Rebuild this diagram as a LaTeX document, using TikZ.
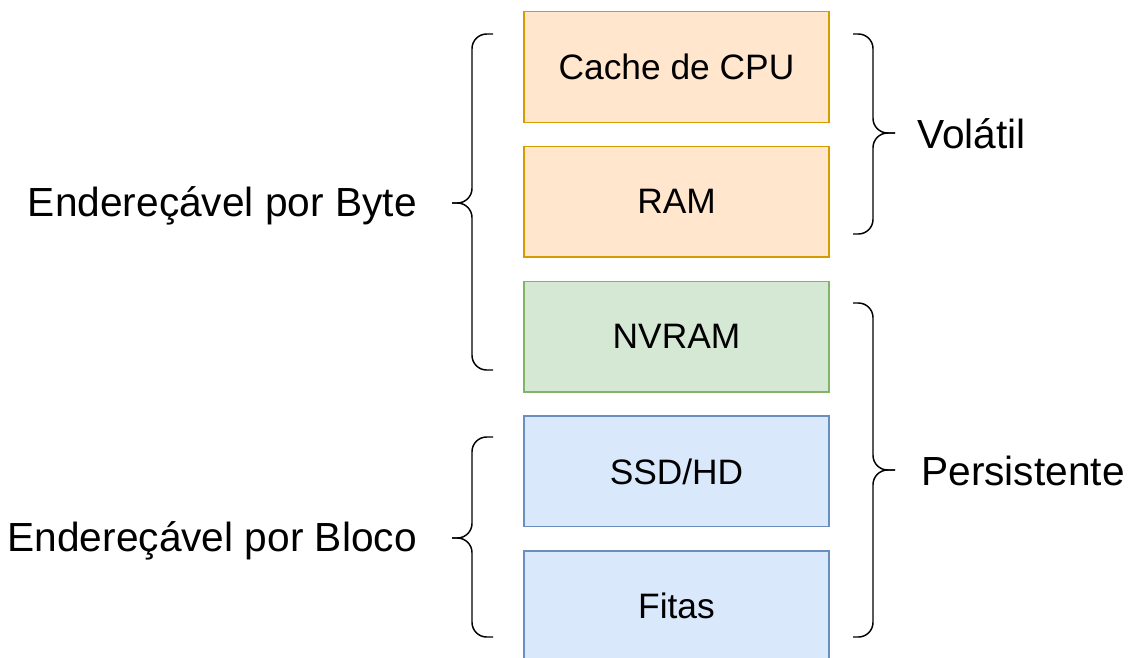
\documentclass[tikz,border=0pt]{standalone}
\usepackage{fontspec}
\setmainfont{Liberation Sans}
\usetikzlibrary{positioning}
\definecolor{cpufill}{HTML}{FFE6CC}
\definecolor{cpuline}{HTML}{D79B00}
\definecolor{nvfill}{HTML}{D5E8D4}
\definecolor{nvline}{HTML}{82B366}
\definecolor{diskfill}{HTML}{DAE8FC}
\definecolor{diskline}{HTML}{6C8EBF}
\begin{document}
\begin{tikzpicture}[x=0.75pt, y=-0.75pt,
    mem/.style={rectangle, line width=1.1pt, minimum width=229pt, minimum height=83pt,
                font=\fontsize{26.5}{32}\selectfont, inner sep=0pt},
    lbl/.style={font=\fontsize{30.5}{36}\selectfont, inner sep=0pt},
    brace/.style={line width=1.1pt, rounded corners=11pt}]
\useasboundingbox (0,0) rectangle (1134,657);
% memory hierarchy, top to bottom
\node[mem, draw=cpuline, fill=cpufill] (cache) at (676.5,67) {Cache de CPU};
\node[mem, draw=cpuline, fill=cpufill, below=17pt of cache] (ram) {RAM};
\node[mem, draw=nvline, fill=nvfill, below=17pt of ram] (nvram) {NVRAM};
\node[mem, draw=diskline, fill=diskfill, below=17pt of nvram] (ssd) {SSD/HD};
\node[mem, draw=diskline, fill=diskfill, below=17pt of ssd] (fitas) {Fitas};
% labels on the left
\node[lbl, anchor=east] (byte) at (417,206) {Endereçável por Byte};
\node[lbl, anchor=east] (bloco) at (417,541) {Endereçável por Bloco};
% labels on the right
\node[lbl, anchor=west] (volatil) at (917,134) {Volátil};
\node[lbl, anchor=west] (persist) at (921,471) {Persistente};
% left braces
\draw[brace] (493,34) -- (472,34) -- (472,203) -- (452,203);
\draw[brace] (452,203) -- (472,203) -- (472,370) -- (493,370);
\draw[brace] (493,437) -- (472,437) -- (472,538) -- (452,538);
\draw[brace] (452,538) -- (472,538) -- (472,637) -- (493,637);
% right braces
\draw[brace] (853,34) -- (873,34) -- (873,133) -- (895,133);
\draw[brace] (895,133) -- (873,133) -- (873,234) -- (853,234);
\draw[brace] (853,303) -- (873,303) -- (873,470) -- (895,470);
\draw[brace] (895,470) -- (873,470) -- (873,637) -- (853,637);
\end{tikzpicture}
\end{document}
